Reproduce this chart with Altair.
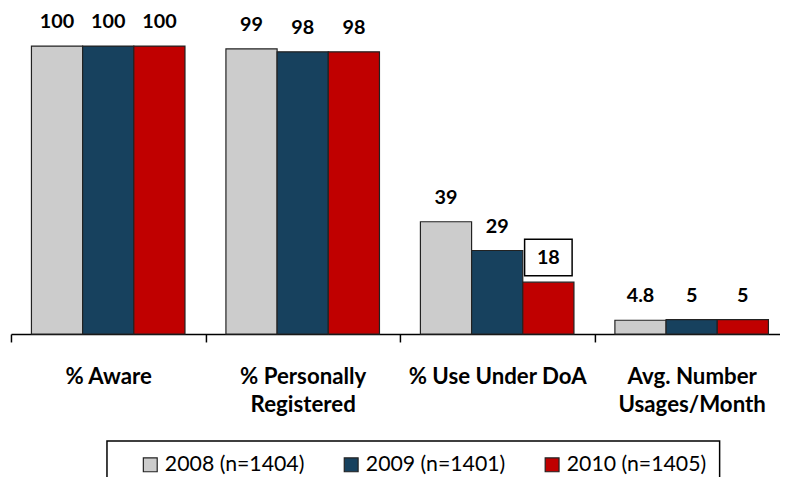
import altair as alt
import pandas as pd

categories = ["% Aware", "% Personally\nRegistered", "% Use Under DoA", "Avg. Number\nUsages/Month"]
series = ["2008 (n=1404)", "2009 (n=1401)", "2010 (n=1405)"]
colors = ["#CCCCCC", "#17415E", "#C00000"]
v2008 = [100, 99, 39, 4.8]
v2009 = [100, 98, 29, 5]
v2010 = [100, 98, 18, 5]
boxed = [("% Use Under DoA", "2010 (n=1405)")]

rows = []
for s, vals in zip(series, [v2008, v2009, v2010]):
    for c, v in zip(categories, vals):
        rows.append({
            "category": c,
            "series": s,
            "value": v,
            "label": f"{v:g}",
            "boxed": (c, s) in boxed,
        })
df = pd.DataFrame(rows)

FONT = "Lato"

base = alt.Chart(df).encode(
    x=alt.X(
        "category:N",
        sort=categories,
        scale=alt.Scale(paddingInner=0, paddingOuter=0),
        axis=alt.Axis(
            title=None,
            labelAngle=0,
            tickBand="extent",
            labelExpr="split(datum.label, '\\n')",
        ),
    ),
    xOffset=alt.XOffset(
        "series:N", sort=series, scale=alt.Scale(paddingInner=0, paddingOuter=0.4)
    ),
    y=alt.Y("value:Q", scale=alt.Scale(domain=[0, 100], nice=False), axis=None),
)

bars = base.mark_bar(stroke="#222222", strokeWidth=1.2).encode(
    color=alt.Color(
        "series:N",
        sort=series,
        scale=alt.Scale(domain=series, range=colors),
        legend=alt.Legend(
            title=None,
            orient="none",
            legendX=97,
            legendY=399,
            direction="horizontal",
            columns=3,
            strokeColor="black",
            fillColor="white",
            padding=13,
            symbolType="square",
            symbolSize=196,
            symbolStrokeColor="#222222",
            symbolStrokeWidth=1.2,
            symbolOffset=20,
            labelFont=FONT,
            labelFontSize=21.5,
            labelColor="black",
            labelOffset=4,
            labelLimit=300,
            columnPadding=16,
        ),
    )
)

text = base.mark_text(
    dy=-24, fontSize=20, font=FONT, fontWeight="bold", baseline="middle", color="black"
).encode(text="label:N")

box_path = "M-1,-0.77L1,-0.77L1,0.77L-1,0.77Z"
box = base.transform_filter(alt.datum.boxed).mark_point(
    shape=box_path,
    size=2304,
    filled=False,
    stroke="black",
    strokeWidth=1.5,
    opacity=1,
    yOffset=-25,
)

chart = (
    alt.layer(bars, text, box)
    .properties(
        width=786,
        height=291,
        padding={"left": 3, "top": 36, "right": -9, "bottom": 142},
        autosize=alt.AutoSizeParams(type="none"),
    )
    .configure_view(stroke=None)
    .configure_axis(
        domainColor="black",
        domainWidth=1.5,
        tickColor="black",
        tickWidth=1.5,
        tickSize=8,
        labelFont=FONT,
        labelFontWeight="bold",
        labelFontSize=22.5,
        labelColor="black",
        labelPadding=24,
        labelLineHeight=28,
        labelLimit=300,
        labelOverlap=False,
        grid=False,
    )
    .configure_legend(strokeWidth=1.5)
)

chart.save("out.html", embed_options={"renderer": "svg", "actions": False})
